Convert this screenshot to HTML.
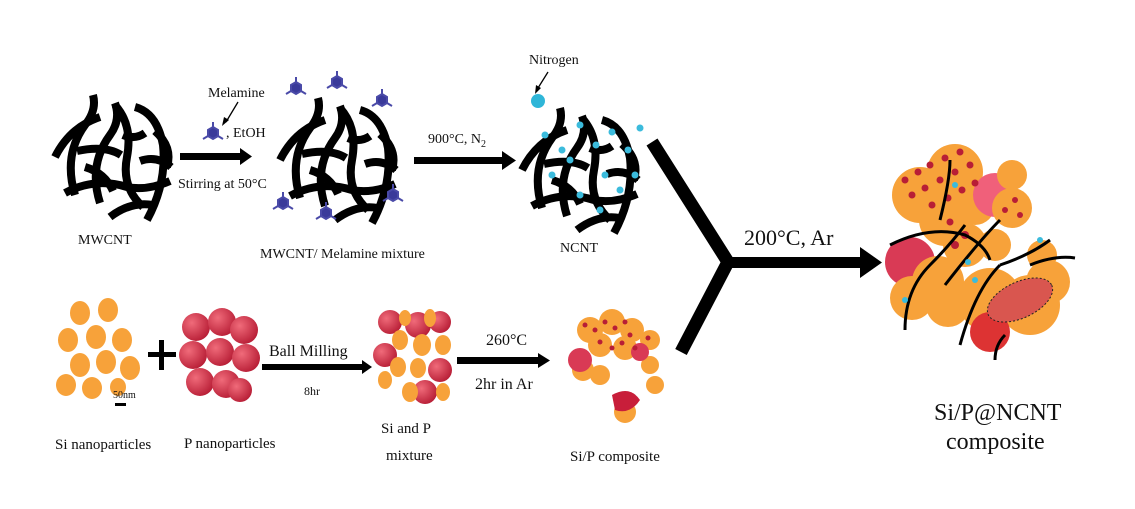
<!DOCTYPE html>
<html><head><meta charset="utf-8"><style>
html,body{margin:0;padding:0;background:#fff;}
svg{display:block;}
text{font-family:"Liberation Serif",serif;fill:#111;}
</style></head><body>
<svg width="1135" height="509" viewBox="0 0 1135 509" xmlns="http://www.w3.org/2000/svg">
<defs>
<g id="cnt" fill="none" stroke="#000" stroke-width="8" stroke-linecap="butt">
<path d="M0,62 Q15,32 45,22"/>
<path d="M20,100 Q8,60 30,30 Q42,15 38,0"/>
<path d="M45,108 Q33,70 55,40 Q66,25 60,8"/>
<path d="M60,10 Q78,30 72,62 Q66,92 88,112"/>
<path d="M80,12 Q102,18 108,50 Q112,88 92,125"/>
<path d="M10,98 Q40,82 72,92 Q92,96 115,86"/>
<path d="M22,56 Q50,50 66,60"/>
<path d="M55,122 Q76,106 98,110"/>
<path d="M100,36 Q118,52 112,72"/>
<path d="M85,66 Q102,60 116,72"/>
<path d="M30,72 Q50,78 58,96"/>
<path d="M68,40 Q80,45 90,38"/>
</g>
<g id="mel" stroke="#4a4aa8" stroke-width="2" fill="none">
<polygon points="0,-6 5,-3 5,3 0,6 -5,3 -5,-3" fill="#3a3a9a"/>
<line x1="0" y1="-6" x2="0" y2="-11"/><line x1="5" y1="3" x2="10" y2="6"/><line x1="-5" y1="3" x2="-10" y2="6"/>
</g>
<radialGradient id="rg" cx="0.35" cy="0.35" r="0.7"><stop offset="0" stop-color="#f06b7a"/><stop offset="1" stop-color="#b81e36"/></radialGradient>
</defs>

<!-- MWCNT -->
<use href="#cnt" transform="translate(55,95)"/>
<text x="78" y="244" font-size="14">MWCNT</text>

<!-- arrow1 -->
<rect x="180" y="153" width="62" height="7" fill="#000"/>
<polygon points="240,148 252,156.5 240,165" fill="#000"/>
<text x="208" y="97" font-size="14">Melamine</text>
<line x1="238" y1="102" x2="226" y2="122" stroke="#000" stroke-width="1.3"/>
<polygon points="222,126 224,117 229,120" fill="#000"/>
<use href="#mel" transform="translate(213,133)"/>
<text x="226" y="137" font-size="14">, EtOH</text>
<text x="178" y="188" font-size="14">Stirring at 50°C</text>

<!-- MWCNT/melamine -->
<use href="#cnt" transform="translate(280,98)"/>
<use href="#mel" transform="translate(296,88)"/>
<use href="#mel" transform="translate(337,82)"/>
<use href="#mel" transform="translate(382,100)"/>
<use href="#mel" transform="translate(283,203)"/>
<use href="#mel" transform="translate(326,213)"/>
<use href="#mel" transform="translate(393,195)"/>
<text x="260" y="258" font-size="14">MWCNT/ Melamine mixture</text>

<!-- arrow2 -->
<rect x="414" y="157" width="90" height="7" fill="#000"/>
<polygon points="502,151 516,160.5 502,170" fill="#000"/>
<text x="428" y="143" font-size="14">900°C, N<tspan font-size="10" dy="4">2</tspan></text>

<!-- NCNT -->
<text x="529" y="64" font-size="14">Nitrogen</text>
<line x1="548" y1="72" x2="538" y2="88" stroke="#000" stroke-width="1.3"/>
<polygon points="535,94 536,85 541,88" fill="#000"/>
<circle cx="538" cy="101" r="7" fill="#2fb6d8"/>
<use href="#cnt" transform="translate(522,108)"/>
<g fill="#3bbbdc">
<circle cx="545" cy="135" r="3.5"/><circle cx="562" cy="150" r="3.5"/><circle cx="580" cy="125" r="3.5"/><circle cx="596" cy="145" r="3.5"/><circle cx="612" cy="132" r="3.5"/><circle cx="628" cy="150" r="3.5"/><circle cx="640" cy="128" r="3.5"/><circle cx="552" cy="175" r="3.5"/><circle cx="580" cy="195" r="3.5"/><circle cx="605" cy="175" r="3.5"/><circle cx="620" cy="190" r="3.5"/><circle cx="635" cy="175" r="3.5"/><circle cx="600" cy="210" r="3.5"/><circle cx="570" cy="160" r="3.5"/>
</g>
<text x="560" y="252" font-size="14">NCNT</text>

<!-- Y connector -->
<path d="M652,142 L728,262 L681,352" fill="none" stroke="#000" stroke-width="13" stroke-linejoin="miter"/>
<rect x="726" y="257" width="138" height="11" fill="#000"/>
<polygon points="860,247 882,262.5 860,278" fill="#000"/>
<text x="744" y="245" font-size="22">200°C, Ar</text>

<!-- final composite -->
<g>
<circle cx="920" cy="195" r="28" fill="#f7a23a"/>
<circle cx="955" cy="172" r="28" fill="#f7a23a"/>
<circle cx="945" cy="220" r="26" fill="#f7a23a"/>
<circle cx="975" cy="205" r="20" fill="#f7a23a"/>
<circle cx="995" cy="195" r="22" fill="#f0607a"/>
<circle cx="1012" cy="208" r="20" fill="#f7a23a"/>
<circle cx="1012" cy="175" r="15" fill="#f7a23a"/>
<circle cx="965" cy="245" r="22" fill="#f7a23a"/>
<circle cx="995" cy="245" r="16" fill="#f7a23a"/>
<circle cx="910" cy="262" r="25" fill="#d93a55"/>
<circle cx="938" cy="282" r="26" fill="#f7a23a"/>
<circle cx="912" cy="298" r="22" fill="#f7a23a"/>
<circle cx="948" cy="305" r="22" fill="#f7a23a"/>
<circle cx="990" cy="300" r="32" fill="#f7a23a"/>
<circle cx="1030" cy="305" r="30" fill="#f7a23a"/>
<circle cx="1048" cy="282" r="22" fill="#f7a23a"/>
<circle cx="1042" cy="255" r="15" fill="#f7a23a"/>
<circle cx="990" cy="332" r="20" fill="#d33"/>
<ellipse cx="1020" cy="300" rx="35" ry="18" transform="rotate(-25 1020 300)" fill="#d9564f" stroke="#222" stroke-dasharray="2 2"/>
<g fill="#b81e36">
<circle cx="905" cy="180" r="3.5"/><circle cx="918" cy="172" r="3.5"/><circle cx="930" cy="165" r="3.5"/><circle cx="945" cy="158" r="3.5"/><circle cx="960" cy="152" r="3.5"/><circle cx="912" cy="195" r="3.5"/><circle cx="925" cy="188" r="3.5"/><circle cx="940" cy="180" r="3.5"/><circle cx="955" cy="172" r="3.5"/><circle cx="970" cy="165" r="3.5"/><circle cx="932" cy="205" r="3.5"/><circle cx="948" cy="198" r="3.5"/><circle cx="962" cy="190" r="3.5"/><circle cx="975" cy="183" r="3.5"/><circle cx="950" cy="222" r="3.5"/><circle cx="965" cy="235" r="4"/><circle cx="955" cy="245" r="4"/><circle cx="1005" cy="210" r="3"/><circle cx="1015" cy="200" r="3"/><circle cx="1020" cy="215" r="3"/>
</g>
<g fill="none" stroke="#000" stroke-width="3">
<path d="M890,245 Q930,225 965,235 Q985,245 990,260"/>
<path d="M905,330 Q905,290 930,265 Q950,245 965,225"/>
<path d="M945,285 Q980,240 1000,220"/>
<path d="M960,345 Q975,290 1000,265"/>
<path d="M1000,265 Q1030,255 1050,240"/>
<path d="M1030,265 Q1055,255 1075,258"/>
<path d="M940,220 Q950,180 950,160"/>
<path d="M1005,335 Q995,345 995,360"/>
</g>
<g fill="#3bbbdc"><circle cx="905" cy="300" r="3"/><circle cx="955" cy="185" r="3"/><circle cx="968" cy="262" r="3"/><circle cx="975" cy="280" r="3"/><circle cx="1040" cy="240" r="3"/></g>
</g>
<text x="934" y="420" font-size="24">Si/P@NCNT</text>
<text x="946" y="449" font-size="24">composite</text>

<!-- Si nanoparticles -->
<g fill="#f7a23a">
<ellipse cx="80" cy="313" rx="10" ry="12"/><ellipse cx="108" cy="310" rx="10" ry="12"/>
<ellipse cx="68" cy="340" rx="10" ry="12"/><ellipse cx="96" cy="337" rx="10" ry="12"/><ellipse cx="122" cy="340" rx="10" ry="12"/>
<ellipse cx="80" cy="365" rx="10" ry="12"/><ellipse cx="106" cy="362" rx="10" ry="12"/><ellipse cx="130" cy="368" rx="10" ry="12"/>
<ellipse cx="66" cy="385" rx="10" ry="11"/><ellipse cx="92" cy="388" rx="10" ry="11"/><ellipse cx="118" cy="387" rx="8" ry="9"/>
</g>
<text x="113" y="398" font-size="10">50nm</text>
<rect x="115" y="403" width="11" height="3" fill="#000"/>
<text x="55" y="449" font-size="15">Si nanoparticles</text>
<rect x="148" y="352" width="28" height="5" fill="#000"/>
<rect x="159" y="340" width="5" height="30" fill="#000"/>

<!-- P nanoparticles -->
<g fill="url(#rg)">
<circle cx="196" cy="327" r="14"/><circle cx="222" cy="322" r="14"/><circle cx="244" cy="330" r="14"/>
<circle cx="193" cy="355" r="14"/><circle cx="220" cy="352" r="14"/><circle cx="246" cy="358" r="14"/>
<circle cx="200" cy="382" r="14"/><circle cx="226" cy="384" r="14"/><circle cx="240" cy="390" r="12"/>
</g>
<text x="184" y="448" font-size="15">P nanoparticles</text>

<!-- arrow3 -->
<rect x="262" y="364" width="102" height="6" fill="#000"/>
<polygon points="362,360 372,367 362,374" fill="#000"/>
<text x="269" y="356" font-size="16">Ball Milling</text>
<text x="304" y="395" font-size="12">8hr</text>

<!-- Si and P mixture -->
<g>
<circle cx="390" cy="322" r="12" fill="url(#rg)"/><circle cx="418" cy="325" r="13" fill="url(#rg)"/><circle cx="440" cy="322" r="11" fill="url(#rg)"/>
<circle cx="385" cy="355" r="12" fill="url(#rg)"/><circle cx="440" cy="370" r="12" fill="url(#rg)"/><circle cx="425" cy="392" r="12" fill="url(#rg)"/>
<g fill="#f7a23a">
<ellipse cx="405" cy="318" rx="6" ry="8"/><ellipse cx="430" cy="318" rx="6" ry="9"/><ellipse cx="400" cy="340" rx="8" ry="10"/><ellipse cx="422" cy="345" rx="9" ry="11"/><ellipse cx="443" cy="345" rx="8" ry="10"/>
<ellipse cx="398" cy="367" rx="8" ry="10"/><ellipse cx="418" cy="368" rx="8" ry="10"/><ellipse cx="385" cy="380" rx="7" ry="9"/><ellipse cx="410" cy="392" rx="8" ry="10"/><ellipse cx="443" cy="392" rx="7" ry="9"/>
</g></g>
<text x="381" y="433" font-size="15">Si and P</text>
<text x="386" y="460" font-size="15">mixture</text>

<!-- arrow4 -->
<rect x="457" y="357" width="84" height="7" fill="#000"/>
<polygon points="538,353 550,360.5 538,368" fill="#000"/>
<text x="486" y="345" font-size="16">260°C</text>
<text x="475" y="389" font-size="16">2hr in Ar</text>

<!-- Si/P composite -->
<g>
<g fill="#f7a23a">
<circle cx="590" cy="330" r="13"/><circle cx="612" cy="322" r="13"/><circle cx="632" cy="330" r="12"/><circle cx="600" cy="345" r="12"/><circle cx="625" cy="348" r="12"/><circle cx="650" cy="340" r="10"/>
<circle cx="583" cy="370" r="11"/><circle cx="600" cy="375" r="10"/><circle cx="650" cy="365" r="9"/><circle cx="655" cy="385" r="9"/><circle cx="625" cy="412" r="11"/>
</g>
<circle cx="580" cy="360" r="12" fill="#d93a55"/><circle cx="640" cy="352" r="9" fill="#d93a55"/><path d="M612,395 Q630,385 640,400 Q630,415 615,410 Z" fill="#c81e3a"/>
<g fill="#b81e36">
<circle cx="585" cy="325" r="2.5"/><circle cx="595" cy="330" r="2.5"/><circle cx="605" cy="322" r="2.5"/><circle cx="615" cy="328" r="2.5"/><circle cx="625" cy="322" r="2.5"/><circle cx="630" cy="335" r="2.5"/><circle cx="600" cy="342" r="2.5"/><circle cx="612" cy="348" r="2.5"/><circle cx="622" cy="343" r="2.5"/><circle cx="635" cy="348" r="2.5"/><circle cx="648" cy="338" r="2.5"/>
</g></g>
<text x="570" y="461" font-size="15">Si/P composite</text>
</svg>
</body></html>
